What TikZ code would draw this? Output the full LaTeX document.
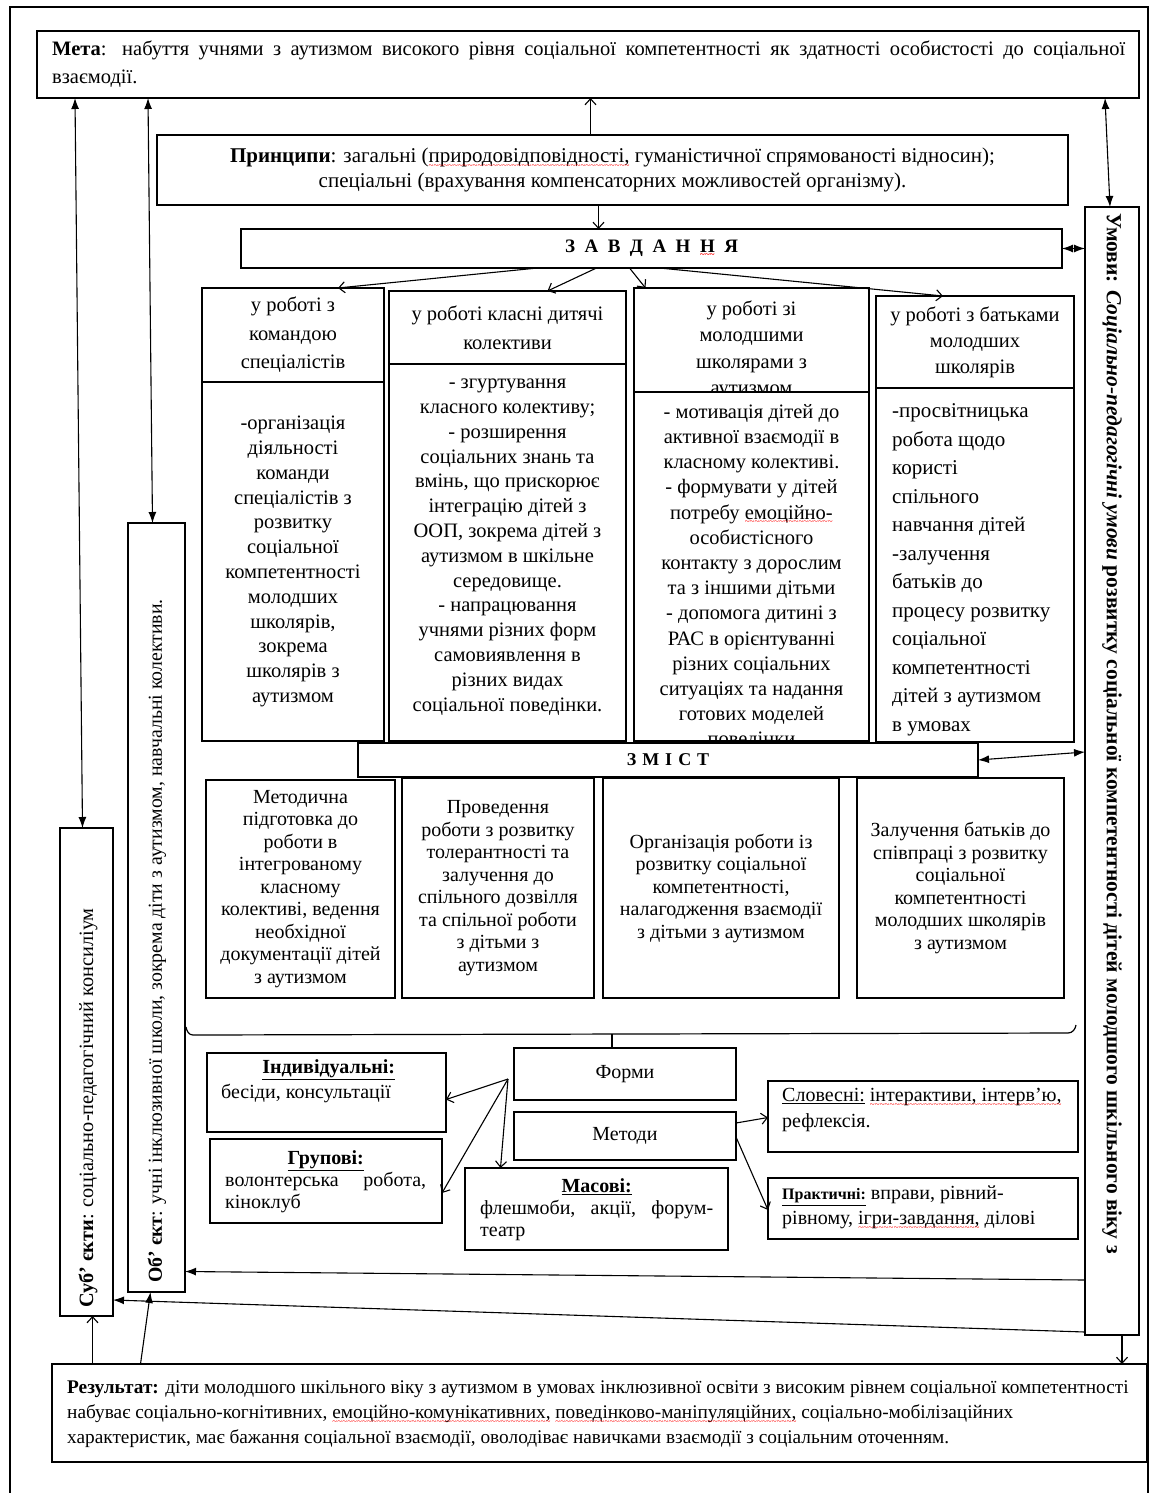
\documentclass[tikz,border=0pt]{standalone}
\usepackage{fontspec}
\setmainfont{Liberation Serif}
\usetikzlibrary{arrows.meta}
% red wavy underline, as left by a spell checker
\newsavebox\wavebox
\newcommand\wavy[1]{\sbox\wavebox{#1}\rlap{\usebox\wavebox}\textcolor{red}{\xleaders\hbox{\lower5.5pt\hbox{\fontsize{9}{9}\selectfont\textasciitilde}}\hskip\wd\wavebox}}
\newcommand\fsz[2]{\fontsize{#1}{#2}\selectfont}
% box from corner (x1,y1) to corner (x2,y2)
\newcommand\mkbox[7][]{\node[box,minimum width={(#5-#3)*1pt},minimum height={(#6-#4)*1pt},#1] (#2) at ({(#3+#5)/2},{(#4+#6)/2}) {#7};}
\tikzset{
  box/.style={draw, line width=1.4pt, inner sep=0pt, outer sep=0pt, align=center},
  wire/.style={line width=1.1pt},
  tip/.style={wire, -{Latex[length=11pt,width=8pt]}},
  tips/.style={wire, {Latex[length=11pt,width=8pt]}-{Latex[length=11pt,width=8pt]}},
  barb/.style={wire, -{Straight Barb[length=6pt,width=11pt,line width=1.1pt]}},
  body/.style={inner sep=0pt, align=center, font=\fsz{20.5}{24.8}},
  head/.style={font=\fsz{20.5}{28.5}},
  cont/.style={font=\fsz{20}{22.5}},
  small/.style={inner sep=0pt, font=\fsz{20}{25}},
}
\begin{document}
\begin{tikzpicture}[x=1pt,y=-1pt]
\useasboundingbox (0,0) rectangle (1157,1493);
\fill[white] (0,0) rectangle (1157,1493);
% outer frame
\draw[line width=1.2pt] (10,1493) -- (10,7) -- (1148,7) -- (1148,1493);

% goal, principles, tasks
\mkbox{meta}{37}{31}{1139}{98}{}
\node[anchor=north west, inner sep=0pt, text width=1073pt, align=justify, font=\fsz{20.5}{28}] (metat) at (52,41)
  {\textbf{Мета}: набуття учнями з аутизмом високого рівня соціальної компетентності як здатності особистості до соціальної\linebreak взаємодії.};
\mkbox[font=\fsz{21}{25}]{prin}{157}{135}{1068}{205}{\textbf{Принципи}: загальні (\wavy{природовідповідності,} гуманістичної спрямованості відносин);\\спеціальні (врахування компенсаторних можливостей організму).}
\mkbox[font=\bfseries\fsz{19}{22}]{zav}{241}{229}{1062}{268}{З\ \ А\ \ В\ \ Д\ \ А\ \ Н\ \ \wavy{Н}\ \ Я}

% conditions (right column)
\mkbox{umovy}{1085}{207}{1139}{1335}{}
\node[rotate=-90, anchor=west, inner sep=0pt, font=\bfseries\fsz{21.5}{24}] (umovyt) at (1112,213)
  {Умови: \textit{Соціально-педагогічні умови} розвитку соціальної компетентності дітей молодшого шкільного віку з};

% objects and subjects (left columns)
\mkbox{obj}{128}{523}{185}{1292}{}
\node[rotate=90, anchor=west, inner sep=0pt, font=\fsz{19.8}{22}] (objt) at (157,1283)
  {\textbf{Об’ єкт}: учні інклюзивної школи, зокрема діти з аутизмом, навчальні колективи.};
\mkbox{subj}{60}{828}{113}{1316}{}
\node[rotate=90, anchor=west, inner sep=0pt, font=\fsz{20.3}{22}] (subjt) at (88,1308)
  {\textbf{Суб’ єкти}: соціально-педагогічний консиліум};

% task columns
\mkbox[head]{c1h}{202}{288}{384}{382}{у роботі з\\командою\\спеціалістів}
\mkbox[body]{c1b}{202}{382}{384}{741}{-організація\\діяльності\\команди\\спеціалістів з\\розвитку\\соціальної\\компетентності\\молодших\\школярів,\\зокрема\\школярів з\\аутизмом}
\mkbox[font=\fsz{20.5}{29}]{c2h}{389}{291}{626}{364}{у роботі класні дитячі\\колективи}
\mkbox{c2b}{389}{364}{626}{741}{}
\node[body] (c2bt) at (507.5,547) {- згуртування\\класного колективу;\\- розширення\\соціальних знань та\\вмінь, що прискорює\\інтеграцію дітей з\\ООП, зокрема дітей з\\аутизмом в шкільне\\середовище.\\- напрацювання\\учнями різних форм\\самовиявлення в\\різних видах\\соціальної поведінки.};
\mkbox{c3h}{634}{288}{869}{392}{}
\mkbox{c3b}{634}{392}{869}{741}{}
\begin{scope}
  \clip (c3h.north west) rectangle (c3h.south east);
  \node[body, font=\fsz{20.5}{26.5}] (c3ht) at (751.5,350) {у роботі зі\\молодшими\\школярами з\\аутизмом};
\end{scope}
\begin{scope}
  \clip (c3b.north west) rectangle (c3b.south east);
  \node[body, font=\fsz{20.5}{25.2}] (c3bt) at (751.5,577) {- мотивація дітей до\\активної взаємодії в\\класному колективі.\\- формувати у дітей\\потребу \wavy{емоційно-}\\особистісного\\контакту з дорослим\\та з іншими дітьми\\- допомога дитині з\\РАС в орієнтуванні\\різних соціальних\\ситуаціях та надання\\готових моделей\\поведінки};
\end{scope}
\mkbox[font=\fsz{20.5}{26}]{c4h}{876}{296}{1074}{388}{у роботі з батьками\\молодших\\школярів}
\mkbox{c4b}{876}{388}{1074}{742}{}
\node[anchor=west, align=left, inner sep=0pt, font=\fsz{21}{28.5}] (c4bt) at (892,570) {-просвітницька\\робота щодо\\користі\\спільного\\навчання дітей\\-залучення\\батьків до\\процесу розвитку\\соціальної\\компетентності\\дітей з аутизмом\\в умовах};

% content
\mkbox[font=\bfseries\fsz{18}{22}]{zmist}{358}{743}{978}{777}{З\,\,М\,\,І\,\,С\,\,Т}
\mkbox[cont]{z1}{206}{780}{395}{998}{Методична\\підготовка до\\роботи в\\інтегрованому\\класному\\колективі, ведення\\необхідної\\документації дітей\\з аутизмом}
\mkbox[cont]{z2}{402}{778}{594}{998}{Проведення\\роботи з розвитку\\толерантності та\\залучення до\\спільного дозвілля\\та спільної роботи\\з дітьми з\\аутизмом}
\mkbox[cont]{z3}{603}{778}{839}{998}{Організація роботи із\\розвитку соціальної\\компетентності,\\налагодження взаємодії\\з дітьми з аутизмом}
\mkbox[cont]{z4}{857}{778}{1064}{998}{Залучення батьків до\\співпраці з розвитку\\соціальної\\компетентності\\молодших школярів\\з аутизмом}

% forms and methods
\draw[line width=1.2pt] (186,1027) to[out=-80,in=180] (193,1035) -- (1068,1033) to[out=0,in=-100] (1076,1025);
\coordinate (brk) at (612,1034);
\mkbox[font=\fsz{20}{22}]{form}{514}{1048}{736}{1100}{Форми}
\mkbox[font=\fsz{20}{22}]{meth}{514}{1112}{736}{1160}{Методи}
\draw[wire] (brk) -- (brk |- form.north);
\mkbox{ind}{207}{1053}{446}{1132}{}
\node[small, anchor=north west, text width=215pt, align=justify] (indt) at (221,1059)
  {\hspace*{\fill}\textbf{\underline{Індивідуальні:}}\hspace*{\fill}\\бесіди, консультації};
\mkbox{grp}{210}{1139}{442}{1223}{}
\node[small, anchor=north west, text width=201pt, align=justify, font=\fsz{20}{22}] (grpt) at (225,1150)
  {\hspace*{\fill}\textbf{\underline{Групові:}}\hspace*{\fill}\\волонтерська робота,\linebreak кіноклуб};
\mkbox{mas}{465}{1168}{728}{1250}{}
\node[small, anchor=north west, text width=233pt, align=justify, font=\fsz{20}{22}] (mast) at (480,1178)
  {\hspace*{\fill}\textbf{\underline{Масові:}}\hspace*{\fill}\\флешмоби, акції, форум-\linebreak театр};
\mkbox{slov}{768}{1081}{1078}{1152}{}
\node[small, anchor=north west, align=left, font=\fsz{20}{26}] (slovt) at (782,1088)
  {\underline{Словесні:} \wavy{інтерактиви, інтерв’ю,}\\рефлексія.};
\mkbox{prak}{768}{1178}{1078}{1239}{}
\node[small, anchor=north west, align=left, font=\fsz{20}{25}] (prakt) at (782,1186)
  {\underline{\textbf{\fsz{16}{25}Практичні:}} вправи, рівний-\\рівному, \wavy{ігри-завдання,} ділові};

\coordinate (fo) at (508,1079);
\draw[barb] (fo) -- ([yshift=-7pt]ind.east);
\draw[barb] (fo) -- ([yshift=-12pt]grp.east);
\draw[barb] (fo) -- ([xshift=-96pt]mas.north);
\draw[barb] ([yshift=13pt]meth.east) -- ([yshift=-1pt]slov.west);
\draw[barb] ([yshift=-1pt]meth.east) -- ([yshift=-1.5pt]prak.west);

% result
\mkbox{res}{52}{1364}{1147}{1462}{}
\node[anchor=north west, inner sep=0pt, align=left, font=\fsz{19.3}{25}] (rest) at (67,1381)
  {\textbf{Результат:} діти молодшого шкільного віку з аутизмом в умовах інклюзивної освіти з високим рівнем соціальної компетентності\\
   набуває соціально-когнітивних, \wavy{емоційно-комунікативних,} \wavy{поведінково-маніпуляційних,} соціально-мобілізаційних\\
   характеристик, має бажання соціальної взаємодії, оволодіває навичками взаємодії з соціальним оточенням.};

% connectors
\draw[barb] ([xshift=-22pt]prin.north) coordinate (p1) -- (p1 |- meta.south);
\draw[barb] ([xshift=-14pt]prin.south) coordinate (p2) -- (p2 |- zav.north);
\draw[tips] ([xshift=517pt]meta.south) -- ([xshift=-2pt]umovy.north);
\draw[tips] (zav.east) -- (umovy.west |- zav.east);
\draw[barb] ([xshift=-114pt]zav.south) -- ([xshift=45pt]c1h.north);
\draw[barb] ([xshift=-55pt]zav.south) -- ([xshift=40pt]c2h.north);
\draw[barb] ([xshift=-22pt]zav.south) -- ([xshift=-106pt]c3h.north);
\draw[barb] ([xshift=8pt]zav.south) -- ([xshift=-32pt]c4h.north);
\draw[tips] (zmist.east) -- ([yshift=19pt]umovy.west);
\draw[tips] ([xshift=-513pt]meta.south) -- ([xshift=-4pt]subj.north);
\draw[tips] ([xshift=-440pt]meta.south) -- ([xshift=-4pt]obj.north);
\draw[tip] ([yshift=-509pt]umovy.west) -- ([yshift=-364pt]obj.east);
\draw[tip] ([yshift=-561pt]umovy.west) -- ([yshift=-228pt]subj.east);
\draw[barb] ([xshift=10pt]umovy.south) coordinate (p3) -- (p3 |- res.north);
\draw[barb] ([xshift=-507pt]res.north) coordinate (p4) -- (p4 |- subj.south);
\draw[tip] ([xshift=-459pt]res.north) -- ([xshift=-6pt]obj.south);
\end{tikzpicture}
\end{document}
